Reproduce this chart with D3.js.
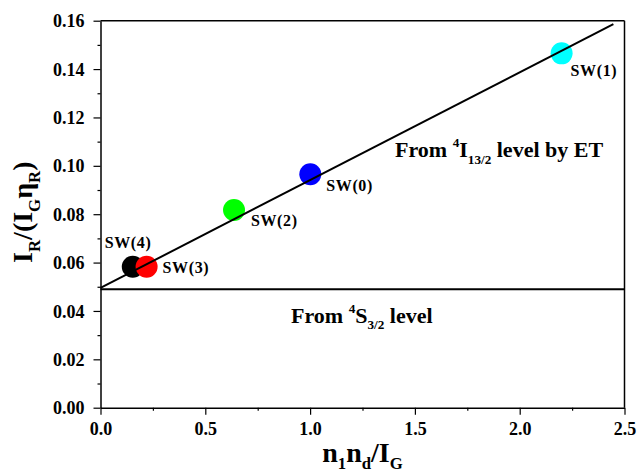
<!DOCTYPE html>
<html>
<head>
<meta charset="utf-8">
<script src="https://cdn.jsdelivr.net/npm/d3@7/dist/d3.min.js"></script>
<style>
  html, body { margin: 0; padding: 0; background: #fff; }
  svg { display: block; }
  text { font-family: "Liberation Serif", "Times New Roman", serif; font-weight: bold; fill: #000; }
</style>
</head>
<body>
<svg id="chart" width="639" height="475"></svg>
<script>
// ---------------- data ----------------
const sampleLabels = ["SW(4)", "SW(3)", "SW(2)", "SW(0)", "SW(1)"];
const xValues      = [0.154, 0.220, 0.637, 1.001, 2.200];
const yValues      = [0.0583, 0.0583, 0.0817, 0.0965, 0.1465];
const pointColors  = ["#000000", "#ff0000", "#00ff00", "#0000ff", "#00ffff"];

const fitLineX = [0, 2.447];
const fitLineY = [0.0495, 0.1586];
const baseLevel = 0.049;

const xTicks = [0.0, 0.5, 1.0, 1.5, 2.0, 2.5];
const yTicks = [0.00, 0.02, 0.04, 0.06, 0.08, 0.10, 0.12, 0.14, 0.16];

// ---------------- layout ----------------
const svg = d3.select("#chart");
const L = 100.5, R = 624.5, T = 20.7, B = 407.7;

const x = d3.scaleLinear().domain([0, 2.5]).range([L, R]);
const y = d3.scaleLinear().domain([0, 0.16]).range([B, T]);

// label offsets in pixels (style, not data)
const labelOffsets = [[-28, -19], [16, 6], [17, 16], [16, 17], [9, 23]];

// ---------------- points ----------------
const pts = sampleLabels.map((s, i) => ({ label: s, x: xValues[i], y: yValues[i], c: pointColors[i], off: labelOffsets[i] }));

svg.append("g").selectAll("circle").data(pts).join("circle")
  .attr("cx", d => x(d.x)).attr("cy", d => y(d.y)).attr("r", 11)
  .attr("fill", d => d.c);

// ---------------- lines ----------------
const line = d3.line().x(d => x(d[0])).y(d => y(d[1]));
svg.append("path")
  .datum(fitLineX.map((v, i) => [v, fitLineY[i]]))
  .attr("d", line).attr("fill", "none").attr("stroke", "#000").attr("stroke-width", 2);

svg.append("path")
  .datum([[0, baseLevel], [2.5, baseLevel]])
  .attr("d", line).attr("fill", "none").attr("stroke", "#000").attr("stroke-width", 2);

// ---------------- axes ----------------
const axisStyle = g => {
  g.attr("font-family", null).attr("font-size", null);
  g.selectAll(".domain").attr("stroke", "#000").attr("stroke-width", 1.5);
  g.selectAll(".tick line").attr("stroke", "#000").attr("stroke-width", 1.2);
};

// minor ticks
svg.append("g").attr("transform", `translate(0,${B})`)
  .call(d3.axisBottom(x).tickValues(d3.range(0.25, 2.5, 0.5)).tickSize(3).tickFormat(""))
  .call(axisStyle).call(g => g.select(".domain").remove());
svg.append("g").attr("transform", `translate(${L},0)`)
  .call(d3.axisLeft(y).tickValues(d3.range(0.01, 0.16, 0.02)).tickSize(3).tickFormat(""))
  .call(axisStyle).call(g => g.select(".domain").remove());

// major ticks
const xAxis = svg.append("g").attr("transform", `translate(0,${B})`)
  .call(d3.axisBottom(x).tickValues(xTicks).tickSize(7).tickSizeOuter(0).tickPadding(4).tickFormat(d3.format(".1f")))
  .call(axisStyle);
xAxis.selectAll("text").style("font-size", "18px").attr("y", 27).attr("dy", null);

const yAxis = svg.append("g").attr("transform", `translate(${L},0)`)
  .call(d3.axisLeft(y).tickValues(yTicks).tickSize(7).tickSizeOuter(0).tickPadding(9).tickFormat(d3.format(".2f")))
  .call(axisStyle);
yAxis.selectAll("text").style("font-size", "18px").attr("dy", "0.34em");

// top/right frame
svg.append("line").attr("x1", L).attr("x2", R).attr("y1", T).attr("y2", T).attr("stroke", "#000").attr("stroke-width", 1.5);
svg.append("line").attr("x1", R).attr("x2", R).attr("y1", T).attr("y2", B).attr("stroke", "#000").attr("stroke-width", 1.5);

// ---------------- point labels ----------------
svg.append("g").selectAll("text").data(pts).join("text")
  .attr("x", d => x(d.x) + d.off[0]).attr("y", d => y(d.y) + d.off[1])
  .style("font-size", "16px").attr("letter-spacing", 0.6)
  .text(d => d.label);

// ---------------- annotations ----------------
function richText(parent, xPos, yPos, size, parts, subShift) {
  const sub = subShift === undefined ? 0.3 : subShift;
  const t = parent.append("text").attr("x", xPos).attr("y", yPos).style("font-size", size + "px");
  let shift = 0;
  parts.forEach(p => {
    const ts = t.append("tspan").text(p.t);
    let target = 0, fs = size;
    if (p.s === "sup") { target = -0.45 * size; fs = size * 0.6; }
    if (p.s === "sub") { target = sub * size; fs = size * 0.6; }
    ts.attr("dy", target - shift).style("font-size", fs + "px");
    shift = target;
  });
  return t;
}

richText(svg, 395, 157, 22, [
  { t: "From " }, { t: "4", s: "sup" }, { t: "I" }, { t: "13/2", s: "sub" }, { t: " level by ET" }
]);
richText(svg, 291, 322.5, 22, [
  { t: "From " }, { t: "4", s: "sup" }, { t: "S" }, { t: "3/2", s: "sub" }, { t: " level" }
]);

// x title
const xt = richText(svg, 0, 462, 28, [
  { t: "n" }, { t: "1", s: "sub" }, { t: "n" }, { t: "d", s: "sub" }, { t: "/I" }, { t: "G", s: "sub" }
], 0.25);
const xw = xt.node().getComputedTextLength();
xt.attr("x", (L + R) / 2 - xw / 2);

// y title
const yg = svg.append("g");
const yt = richText(yg, 0, 0, 28, [
  { t: "I" }, { t: "R", s: "sub" }, { t: "/(I" }, { t: "G", s: "sub" }, { t: "η" }, { t: "R", s: "sub" }, { t: ")" }
]);
const yw = yt.node().getComputedTextLength();
yg.attr("transform", `translate(32,${(T + B) / 2 - 2 + yw / 2}) rotate(-90)`);
</script>
</body>
</html>
